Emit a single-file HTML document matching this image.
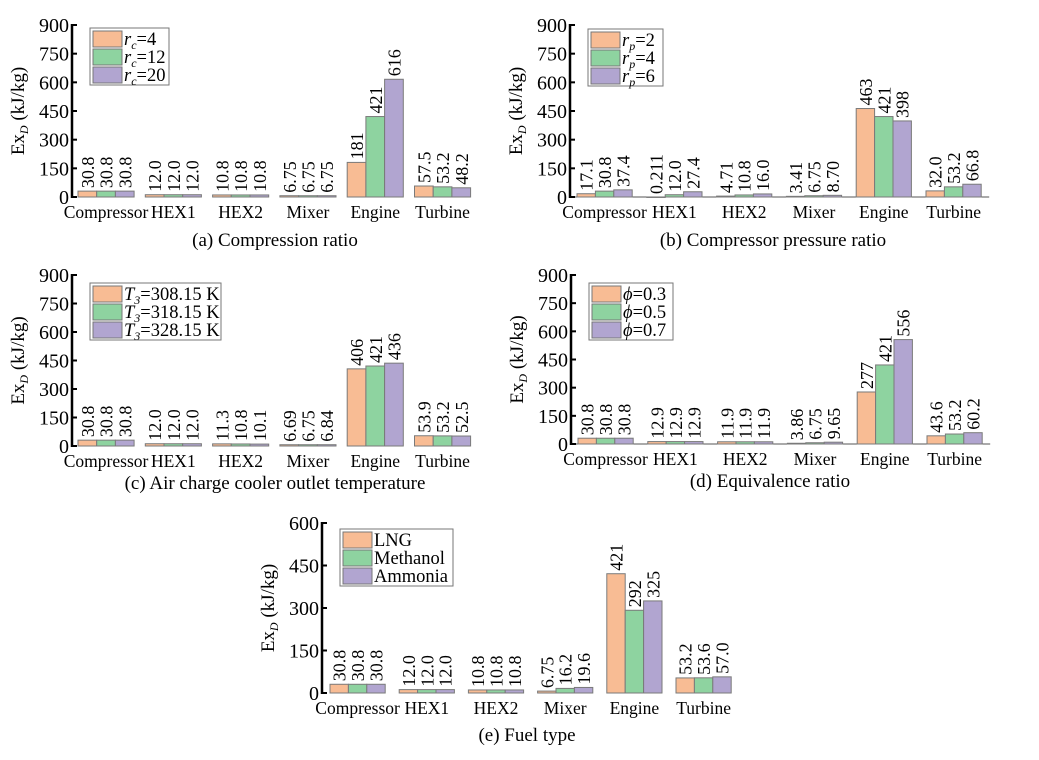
<!DOCTYPE html>
<html><head><meta charset="utf-8"><style>
html,body{margin:0;padding:0;background:#fff;width:1039px;height:760px;overflow:hidden}
svg,svg text{font-family:"Liberation Serif","DejaVu Serif",serif}
</style></head><body>
<svg id="chart" width="1039" height="760" viewBox="0 0 1039 760" font-family="Liberation Serif, serif"></svg>
<script>
const categories = ["Compressor","HEX1","HEX2","Mixer","Engine","Turbine"];
const colors = ["#F8BC94","#8ED3A0","#B1A5D0"];

const aSeries = [[30.8,12.0,10.8,6.75,181,57.5],[30.8,12.0,10.8,6.75,421,53.2],[30.8,12.0,10.8,6.75,616,48.2]];
const aLabels = [["30.8","12.0","10.8","6.75","181","57.5"],["30.8","12.0","10.8","6.75","421","53.2"],["30.8","12.0","10.8","6.75","616","48.2"]];
const bSeries = [[17.1,0.211,4.71,3.41,463,32.0],[30.8,12.0,10.8,6.75,421,53.2],[37.4,27.4,16.0,8.70,398,66.8]];
const bLabels = [["17.1","0.211","4.71","3.41","463","32.0"],["30.8","12.0","10.8","6.75","421","53.2"],["37.4","27.4","16.0","8.70","398","66.8"]];
const cSeries = [[30.8,12.0,11.3,6.69,406,53.9],[30.8,12.0,10.8,6.75,421,53.2],[30.8,12.0,10.1,6.84,436,52.5]];
const cLabels = [["30.8","12.0","11.3","6.69","406","53.9"],["30.8","12.0","10.8","6.75","421","53.2"],["30.8","12.0","10.1","6.84","436","52.5"]];
const dSeries = [[30.8,12.9,11.9,3.86,277,43.6],[30.8,12.9,11.9,6.75,421,53.2],[30.8,12.9,11.9,9.65,556,60.2]];
const dLabels = [["30.8","12.9","11.9","3.86","277","43.6"],["30.8","12.9","11.9","6.75","421","53.2"],["30.8","12.9","11.9","9.65","556","60.2"]];
const eSeries = [[30.8,12.0,10.8,6.75,421,53.2],[30.8,12.0,10.8,16.2,292,53.6],[30.8,12.0,10.8,19.6,325,57.0]];
const eLabels = [["30.8","12.0","10.8","6.75","421","53.2"],["30.8","12.0","10.8","16.2","292","53.6"],["30.8","12.0","10.8","19.6","325","57.0"]];
const ticks900 = [0,150,300,450,600,750,900];
const ticks600 = [0,150,300,450,600];
const legendA = [["r","c","=4"],["r","c","=12"],["r","c","=20"]];
const legendB = [["r","p","=2"],["r","p","=4"],["r","p","=6"]];
const legendC = [["T","3","=308.15 K"],["T","3","=318.15 K"],["T","3","=328.15 K"]];
const legendD = [["\u03D5","","=0.3"],["\u03D5","","=0.5"],["\u03D5","","=0.7"]];
const legendE = [["","","LNG"],["","","Methanol"],["","","Ammonia"]];

const NS="http://www.w3.org/2000/svg";
const svg=document.getElementById('chart');
function mk(tag,attrs,parent){const e=document.createElementNS(NS,tag);for(const k in attrs)e.setAttribute(k,attrs[k]);(parent||svg).appendChild(e);return e;}

function panel(id,cfg,series,labels,ticks,legend,caption){
  const g=mk('g',{});
  
  
  const max=ticks[ticks.length-1];
  const y=v=>cfg.zero-(v/max)*(cfg.zero-cfg.top);
  const bw=cfg.bw;
  const xg=i=>cfg.first+i*cfg.pitch;
  const ax=mk('line',{x1:cfg.ax,y1:cfg.top-1,x2:cfg.ax,y2:cfg.zero+1,stroke:'#000','stroke-width':2.5},g);
  
  
  if(cfg.xline){const xl=mk('line',{x1:cfg.ax,y1:cfg.zero,x2:xg(5)+3*bw+8,y2:cfg.zero,stroke:'#555','stroke-width':1},g);
    
    }
  ticks.forEach(t=>{
    const yy=y(t);
    mk('line',{x1:cfg.ax,y1:yy,x2:cfg.ax+5,y2:yy,stroke:'#000','stroke-width':2},g);
    const tl=mk('text',{x:cfg.ax-3,y:yy+7,'text-anchor':'end','font-size':20},g);
    tl.textContent=t;
    
    
  });
  const yt=mk('text',{transform:`translate(${cfg.ax-48},${(cfg.top+cfg.zero)/2}) rotate(-90)`,'text-anchor':'middle','font-size':19},g);
  yt.innerHTML='Ex<tspan font-size="12" font-style="italic" dy="4">D</tspan><tspan dy="-4"> (kJ/kg)</tspan>';
  
  
  categories.forEach((c,i)=>{
    series.forEach((s,j)=>{
      const x=xg(i)+j*bw;
      const r=mk('rect',{x:x,y:y(s[i]),width:bw,height:Math.max(cfg.zero-y(s[i]),0.5),fill:colors[j],stroke:'#7a7a7a','stroke-width':1},g);
      
      
      const lx=x+bw/2+6.5, ly=y(s[i])-3;
      const t=mk('text',{transform:`translate(${lx},${ly}) rotate(-90)`,'font-size':18},g);
      t.textContent=labels[j][i];
      
      
    });
    const cl=mk('text',{x:xg(i)+1.5*bw,y:cfg.zero+21,'text-anchor':'middle','font-size':17.5},g);
    cl.textContent=c;
    
    
  });
  const L=cfg.leg;
  const lb=mk('rect',{x:L.x,y:L.y,width:L.w,height:57,fill:'#fff',stroke:'#777','stroke-width':1},g);
  
  
  legend.forEach((e,j)=>{
    const yy=L.y+3+j*18;
    mk('rect',{x:L.x+3,y:yy,width:29,height:16,fill:colors[j],stroke:'#777','stroke-width':1},g);
    const t=mk('text',{x:L.x+34,y:yy+14,'font-size':18.5},g);
    if(e[0]) t.innerHTML=`<tspan font-style="italic">${e[0]}</tspan>`+(e[1]?`<tspan font-size="12" font-style="italic" dy="4">${e[1]}</tspan><tspan dy="-4">${e[2]}</tspan>`:`<tspan>${e[2]}</tspan>`);
    else t.textContent=e[2];
    
    
  });
  const cp=mk('text',{x:cfg.capx,y:cfg.capy,'text-anchor':'middle','font-size':19},g);
  cp.textContent=caption;
  
  
}
panel('a',{ax:72,top:25,zero:197,first:78,pitch:67.3,bw:18.7,leg:{x:90,y:28,w:79},capx:275,capy:246},aSeries,aLabels,ticks900,legendA,"(a) Compression ratio");
panel('b',{ax:570,top:25,zero:197,first:577,pitch:69.8,bw:18.4,xline:true,leg:{x:588,y:29,w:75},capx:773,capy:246},bSeries,bLabels,ticks900,legendB,"(b) Compressor pressure ratio");
panel('c',{ax:72,top:275,zero:446,first:78,pitch:67.3,bw:18.7,leg:{x:90,y:283,w:131},capx:275,capy:489},cSeries,cLabels,ticks900,legendC,"(c) Air charge cooler outlet temperature");
panel('d',{ax:571,top:275,zero:444,first:578,pitch:69.8,bw:18.4,xline:true,leg:{x:589,y:283,w:84},capx:770,capy:487},dSeries,dLabels,ticks900,legendD,"(d) Equivalence ratio");
panel('e',{ax:322,top:523,zero:693,first:330,pitch:69.2,bw:18.4,leg:{x:340,y:529,w:113},capx:527,capy:741},eSeries,eLabels,ticks600,legendE,"(e) Fuel type");
</script>
</body></html>
